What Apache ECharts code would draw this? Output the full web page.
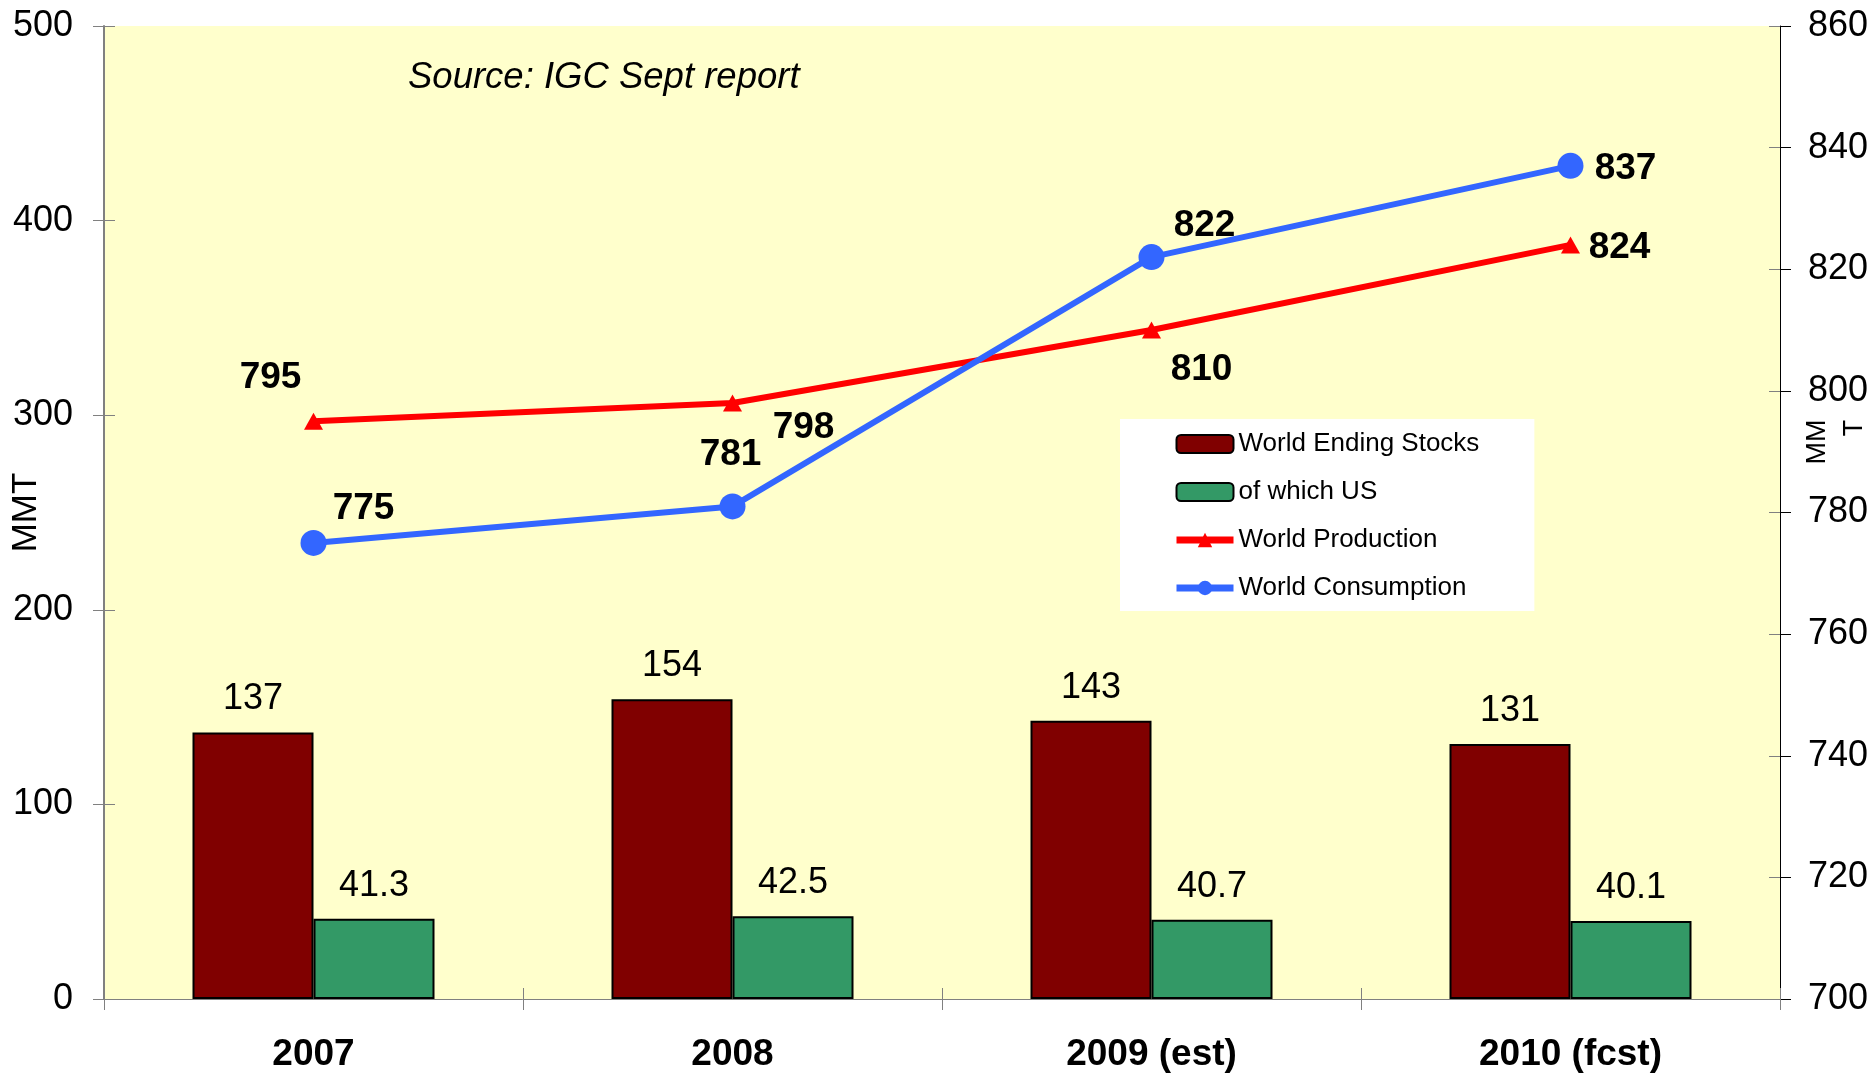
<!DOCTYPE html>
<html>
<head>
<meta charset="utf-8">
<script src="https://cdn.jsdelivr.net/npm/echarts@6/dist/echarts.min.js"></script>
<style>
  html, body { margin: 0; padding: 0; background: #fff; }
  #chart { width: 1874px; height: 1073px; }
</style>
</head>
<body>
<div id="chart"></div>
<script>
// ── Data ─────────────────────────────────────────────────────────────────────
const years = ['2007', '2008', '2009 (est)', '2010 (fcst)'];
const endingStocks = [137, 154, 143, 131];
const usStocks = [41.3, 42.5, 40.7, 40.1];
const production = [795, 798, 810, 824];
const consumption = [775, 781, 822, 837];

// label offsets (px) for the line value labels, relative to each point
const prodLabelOffset = [[-43, -43], [71, 25], [50, 40], [49, 3]];
const consLabelOffset = [[50, -34], [-2, -52], [53, -31], [55, 3]];

const FONT = '"Liberation Sans", Arial, sans-serif';

const chart = echarts.init(document.getElementById('chart'));

const lineData = (values, offsets) => values.map((v, i) => ({
    value: v,
    label: { offset: offsets[i] }
}));

const barLabel = {
    show: true, position: 'top', distance: 15,
    fontFamily: FONT, fontSize: 36, color: '#000'
};

const lineLabel = {
    show: true, position: 'inside',
    fontFamily: FONT, fontSize: 37, fontWeight: 'bold', color: '#000'
};

chart.setOption({
    backgroundColor: '#fff',
    textStyle: { fontFamily: FONT },
    animation: false,
    title: {
        text: 'Source: IGC Sept report',
        left: 408, top: 59, padding: 0,
        textStyle: { fontFamily: FONT, fontSize: 36.5, fontStyle: 'italic', fontWeight: 'normal', color: '#000' }
    },
    grid: {
        left: 104, right: 94, top: 26, bottom: 74,
        outerBoundsMode: 'none', containLabel: false,
        show: true, backgroundColor: '#FFFFCC', borderWidth: 0
    },
    legend: {
        orient: 'vertical',
        left: 1120, top: 419,
        padding: [12, 55, 10, 53],
        backgroundColor: '#fff',
        itemWidth: 57, itemHeight: 18, itemGap: 22,
        textStyle: { fontFamily: FONT, fontSize: 26, color: '#000' },
        data: [
            { name: 'World Ending Stocks', itemStyle: { borderColor: '#000', borderWidth: 2 } },
            { name: 'of which US', itemStyle: { borderColor: '#000', borderWidth: 2 } },
            { name: 'World Production', lineStyle: { width: 7 } },
            { name: 'World Consumption', lineStyle: { width: 7 } }
        ]
    },
    xAxis: [
        {
            type: 'category', data: years, boundaryGap: true,
            axisLine: { lineStyle: { color: '#808080', width: 1 } },
            axisTick: { show: true, length: 11, lineStyle: { color: '#808080' } },
            axisLabel: { fontFamily: FONT, fontSize: 37, fontWeight: 'bold', color: '#000', margin: 37 },
            splitLine: { show: false }
        },
        {
            type: 'category', data: years, boundaryGap: true, position: 'bottom',
            axisLine: { show: false },
            axisTick: { show: true, inside: true, length: 11, lineStyle: { color: '#808080' } },
            axisLabel: { show: false },
            splitLine: { show: false }
        }
    ],
    yAxis: [
        {
            type: 'value', min: 0, max: 500, interval: 100, position: 'left',
            name: 'MMT', nameLocation: 'middle', nameGap: 60, nameRotate: 90,
            nameMoveOverlap: false,
            nameTextStyle: { fontFamily: FONT, fontSize: 35, color: '#000' },
            axisLine: { show: true, lineStyle: { color: '#808080', width: 2 } },
            axisTick: { show: true, length: 11, lineStyle: { color: '#808080' } },
            axisLabel: { fontFamily: FONT, fontSize: 36, color: '#000', margin: 31, padding: [5, 0, 0, 0] },
            splitLine: { show: false }
        },
        {
            type: 'value', min: 700, max: 860, interval: 20, position: 'right',
            axisLine: { show: true, lineStyle: { color: '#000', width: 1 } },
            axisTick: { show: true, length: 11, lineStyle: { color: '#000' } },
            axisLabel: { fontFamily: FONT, fontSize: 36, color: '#000', margin: 28, padding: [5, 0, 0, 0] },
            splitLine: { show: false }
        },
        {
            type: 'value', min: 0, max: 500, interval: 100, position: 'left',
            axisLine: { show: false },
            axisTick: { show: true, inside: true, length: 11, lineStyle: { color: '#808080' } },
            axisLabel: { show: false },
            splitLine: { show: false }
        },
        {
            type: 'value', min: 700, max: 860, interval: 20, position: 'right',
            axisLine: { show: false },
            axisTick: { show: true, inside: true, length: 11, lineStyle: { color: '#808080' } },
            axisLabel: { show: false },
            splitLine: { show: false }
        }
    ],
    graphic: [
        {
            type: 'text', x: 1818, y: 442, rotation: Math.PI / 2,
            style: { text: 'MM', fontFamily: FONT, fontSize: 27, fill: '#000', align: 'center', verticalAlign: 'middle' }
        },
        {
            type: 'text', x: 1855, y: 428, rotation: Math.PI / 2,
            style: { text: 'T', fontFamily: FONT, fontSize: 27, fill: '#000', align: 'center', verticalAlign: 'middle' }
        }
    ],
    series: [
        {
            name: 'World Ending Stocks', type: 'bar', data: endingStocks,
            barWidth: 121, barGap: '0%',
            itemStyle: { color: '#800000', borderColor: '#000', borderWidth: 2 },
            label: barLabel, z: 2
        },
        {
            name: 'of which US', type: 'bar', data: usStocks,
            barWidth: 121, barGap: '0%',
            itemStyle: { color: '#339966', borderColor: '#000', borderWidth: 2 },
            label: barLabel, z: 2
        },
        {
            name: 'World Production', type: 'line', yAxisIndex: 1,
            data: lineData(production, prodLabelOffset),
            symbol: 'triangle', symbolSize: [19, 17], showAllSymbol: true,
            lineStyle: { color: '#FF0000', width: 6 },
            itemStyle: { color: '#FF0000' },
            label: lineLabel,
            z: 5
        },
        {
            name: 'World Consumption', type: 'line', yAxisIndex: 1,
            data: lineData(consumption, consLabelOffset),
            symbol: 'circle', symbolSize: 26, showAllSymbol: true,
            lineStyle: { color: '#3366FF', width: 6 },
            itemStyle: { color: '#3366FF' },
            label: lineLabel,
            z: 6
        }
    ]
});
</script>
</body>
</html>
